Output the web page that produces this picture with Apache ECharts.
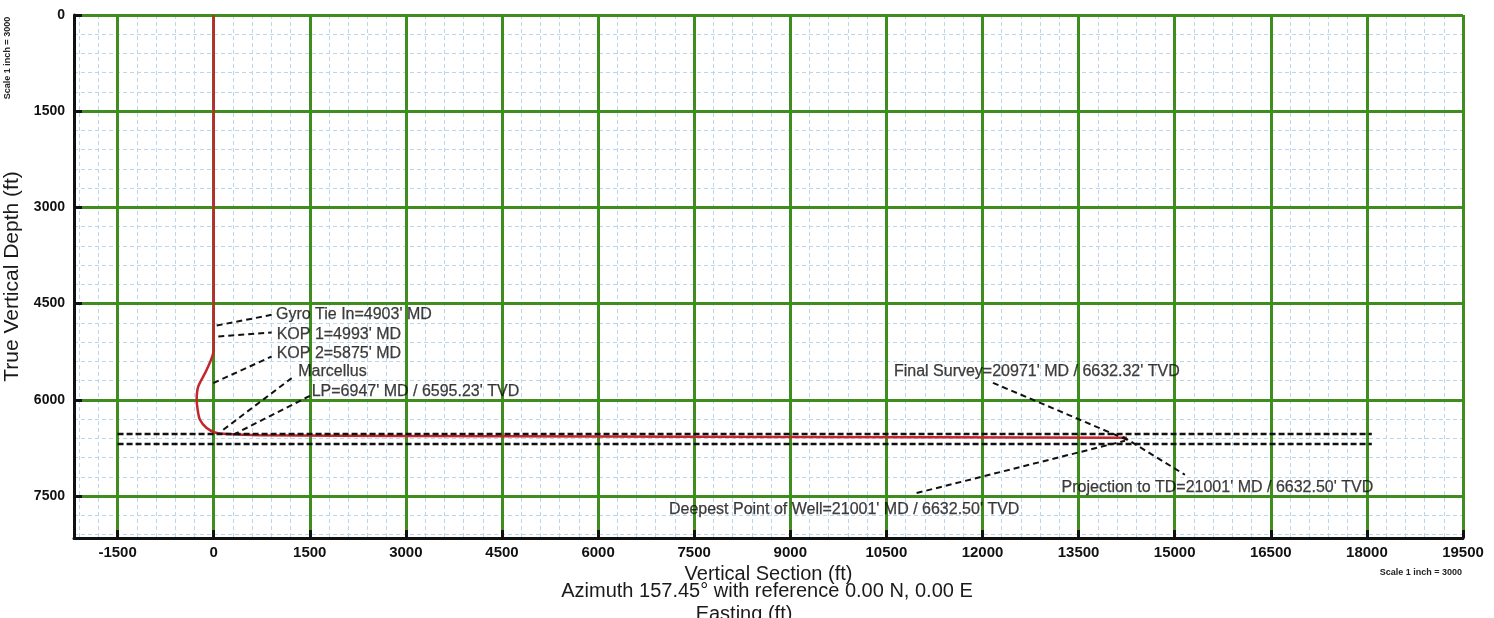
<!DOCTYPE html>
<html>
<head>
<meta charset="utf-8">
<script src="https://cdn.jsdelivr.net/npm/echarts@6/dist/echarts.min.js"></script>
<style>
html,body{margin:0;padding:0;background:#fff;}
#chart{width:1494px;height:618px;}
</style>
</head>
<body>
<div id="chart"></div>
<script>
// ---- Axis ranges / ticks ----
const xMin = -2180, xMax = 19500;
const yMin = 0, yMax = 8155;
const xMajorTicks = [-1500, 0, 1500, 3000, 4500, 6000, 7500, 9000, 10500, 12000, 13500, 15000, 16500, 18000, 19500];
const yMajorTicks = [0, 1500, 3000, 4500, 6000, 7500];
const minorStep = 300;

// ---- Well path (Vertical Section ft, TVD ft) ----
const wellVS  = [0, 0,    0,    0,    -109, -240, -265, -250, -214, -109, 20,   203,  723,  3000, 9000, 14255];
const wellTVD = [0, 4903, 4993, 5221, 5532, 5792, 6000, 6155, 6311, 6441, 6509, 6534, 6553, 6565, 6580, 6592];

// ---- Formation (dashed) lines ----
const formationTVD = [6534, 6690];
const formationVS = [-1500, 18077];

// ---- Annotations ----
const annoText = [
  "Gyro Tie In=4903' MD",
  "KOP 1=4993' MD",
  "KOP 2=5875' MD",
  "Marcellus",
  "LP=6947' MD / 6595.23' TVD",
  "Final Survey=20971' MD / 6632.32' TVD",
  "Deepest Point of Well=21001' MD / 6632.50' TVD",
  "Projection to TD=21001' MD / 6632.50' TVD"
];
const annoVS   = [972, 983, 983, 1320, 1530, 10618, 7106, 13235];
const annoTVD  = [4675, 4976, 5283, 5559, 5870, 5559, 7714, 7376];
const leadFromVS  = [47, 72, -6, 150, 306, 12163, 10972, 14192];
const leadFromTVD = [4842, 5013, 5739, 6467, 6545, 5735, 7454, 6576];
const leadToVS    = [905, 905, 905, 1217, 1503, 14255, 14224, 15160];
const leadToTVD   = [4675, 4951, 5325, 5662, 5937, 6623, 6639, 7169];

function minorValues(lo, hi) {
  const out = [];
  for (let v = Math.ceil(lo / minorStep) * minorStep; v <= hi; v += minorStep) {
    if (v % 1500 !== 0) out.push(v);
  }
  return out;
}
const xMinor = minorValues(xMin, xMax);
const yMinor = minorValues(yMin, yMax);

const GREEN = '#3f8d1f';
const MINOR = '#bcd6ee';
const FONT = 'Liberation Sans, Arial, sans-serif';

const series = [];
series.push({
  type: 'line', xAxisIndex: 0, yAxisIndex: 0, z: 3,
  data: wellVS.map((v, i) => [v, wellTVD[i]]),
  showSymbol: false, symbol: 'none', smooth: 0.3,
  lineStyle: {color: '#c3262c', width: 2.5}
});
formationTVD.forEach(t => {
  series.push({
    type: 'line', z: 4, symbol: 'none',
    data: formationVS.map(v => [v, t]),
    lineStyle: {color: '#111', width: 2.4, type: [6, 3]}
  });
});
annoText.forEach((t, i) => {
  series.push({
    type: 'line', z: 5, symbol: 'none',
    data: [[leadFromVS[i], leadFromTVD[i]], [leadToVS[i], leadToTVD[i]]],
    lineStyle: {color: '#111', width: 2, type: [6, 4]}
  });
});
series.push({
  type: 'scatter', z: 6, symbolSize: 0,
  data: annoText.map((t, i) => [annoVS[i], annoTVD[i], t]),
  label: {
    show: true, position: 'right', distance: 0,
    formatter: p => p.value[2],
    color: '#0e0e0e', fontSize: 16, fontFamily: FONT,
    textBorderColor: '#0e0e0e', textBorderWidth: 0.25
  }
});

const tickFmt = v => String(v);

const chart = echarts.init(document.getElementById('chart'));
chart.setOption({
  animation: false,
  backgroundColor: '#ffffff',
  grid: {left: 74, right: 31, top: 15, bottom: 80, containLabel: false, outerBoundsMode: 'none'},
  xAxis: [
    {
      type: 'value', min: xMin, max: xMax, position: 'bottom', z: 2,
      name: 'Vertical Section (ft)', nameLocation: 'middle', nameGap: 22,
      nameTextStyle: {fontSize: 20, color: '#1a1a1a', fontFamily: FONT},
      axisLine: {show: true, onZero: false, lineStyle: {color: '#111', width: 3}},
      axisTick: {show: true, inside: true, length: 8, customValues: xMajorTicks, lineStyle: {color: '#111', width: 3}},
      axisLabel: {show: true, customValues: xMajorTicks, formatter: tickFmt, margin: 7, fontSize: 15, fontWeight: 'bold', color: '#111', fontFamily: FONT},
      splitLine: {show: true, lineStyle: {color: GREEN, width: 3}}
    },
    {
      type: 'value', min: xMin, max: xMax, position: 'bottom', z: 1,
      axisLine: {show: false},
      axisTick: {show: false, customValues: xMinor},
      axisLabel: {show: false},
      splitLine: {show: true, lineStyle: {color: MINOR, width: 1, type: [4, 3]}}
    }
  ],
  yAxis: [
    {
      type: 'value', inverse: true, min: yMin, max: yMax, position: 'left', z: 2,
      name: 'True Vertical Depth (ft)', nameLocation: 'middle', nameGap: 48,
      nameTextStyle: {fontSize: 21, color: '#1a1a1a', fontFamily: FONT},
      axisLine: {show: true, onZero: false, lineStyle: {color: '#111', width: 3}},
      axisTick: {show: true, inside: true, length: 8, customValues: yMajorTicks, lineStyle: {color: '#111', width: 3}},
      axisLabel: {show: true, customValues: yMajorTicks, formatter: tickFmt, margin: 9, fontSize: 14, fontWeight: 'bold', color: '#111', fontFamily: FONT},
      splitLine: {show: true, lineStyle: {color: GREEN, width: 3}}
    },
    {
      type: 'value', inverse: true, min: yMin, max: yMax, position: 'left', z: 1,
      axisLine: {show: false},
      axisTick: {show: false, customValues: yMinor},
      axisLabel: {show: false},
      splitLine: {show: true, lineStyle: {color: MINOR, width: 1, type: [4, 3]}}
    }
  ],
  graphic: [
    {type: 'text', style: {text: 'Azimuth 157.45\u00b0 with reference 0.00 N, 0.00 E', font: '20px ' + FONT, fill: '#1a1a1a', x: 767, y: 591, align: 'center', verticalAlign: 'middle'}},
    {type: 'text', style: {text: 'Easting (ft)', font: '20px ' + FONT, fill: '#1a1a1a', x: 744, y: 614, align: 'center', verticalAlign: 'middle'}},
    {type: 'text', x: 8, y: 58, rotation: Math.PI / 2, style: {text: 'Scale 1 inch = 3000', font: 'bold 9px ' + FONT, fill: '#222', align: 'center', verticalAlign: 'middle'}},
    {type: 'text', style: {text: 'Scale 1 inch = 3000', font: 'bold 9px ' + FONT, fill: '#222', x: 1462, y: 573, align: 'right', verticalAlign: 'middle'}}
  ],
  series: series
});
</script>
</body>
</html>
